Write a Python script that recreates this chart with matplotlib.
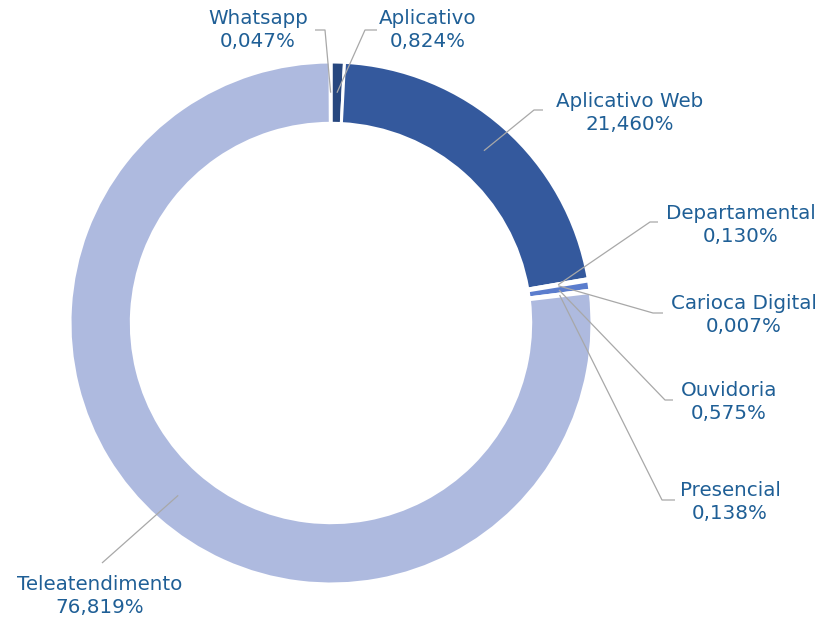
import numpy as np
import matplotlib
matplotlib.use("Agg")
import matplotlib.pyplot as plt

W, H = 825, 628

labels = ["Aplicativo", "Aplicativo Web", "Departamental", "Carioca Digital",
          "Ouvidoria", "Presencial", "Teleatendimento", "Whatsapp"]
values = [0.824, 21.460, 0.130, 0.007, 0.575, 0.138, 76.819, 0.047]
colors = ["#27477f", "#34599d", "#4d6fbd", "#5778c6", "#5b7dcd", "#7f97d4",
          "#aebadf", "#c3cce9"]

# label text centres and elbow of the leader line, in pixel coords (y down)
label_pos = {
    "Whatsapp": ((258, 30), (325, 30), (315, 30)),
    "Aplicativo": ((428, 30), (365, 30), (377, 30)),
    "Aplicativo Web": ((630, 113), (534, 110), (543, 110)),
    "Departamental": ((741, 225), (650, 222), (658, 222)),
    "Carioca Digital": ((744, 315), (653, 313), (663, 313)),
    "Ouvidoria": ((729, 402), (665, 400), (673, 400)),
    "Presencial": ((730, 502), (662, 500), (675, 500)),
    "Teleatendimento": ((100, 596), (102, 563), (102, 563)),
}

cx, cy = 331, H - 323
R = 261
ring = 0.235

fig = plt.figure(figsize=(W / 100, H / 100), dpi=100)
ax = fig.add_axes([0, 0, 1, 1])

ax.pie(values, colors=colors, startangle=90, counterclock=False,
       center=(cx, cy), radius=R, frame=True,
       wedgeprops=dict(width=R * ring, edgecolor="white", linewidth=2.2))
ax.set_xlim(0, W)
ax.set_ylim(0, H)
ax.axis("off")

text_color = "#1f5f96"
total = sum(values)
cum = 0.0
r_anchor = R * (1 - ring / 2)
for lab, v in zip(labels, values):
    mid = (cum + v / 2) / total * 360.0
    cum += v
    ang = np.deg2rad(90 - mid)
    ax_x = cx + r_anchor * np.cos(ang)
    ax_y = cy + r_anchor * np.sin(ang)
    (tx, ty), (ex, ey), (hx, hy) = label_pos[lab]
    ax.plot([ax_x, ex, hx], [ax_y, H - ey, H - hy], color="#a8a8a8", lw=0.9,
            solid_capstyle="butt")
    pct = f"{v:.3f}".replace(".", ",") + "%"
    ax.text(tx, H - ty, f"{lab}\n{pct}", ha="center", va="center",
            fontsize=14.3, color=text_color, family="DejaVu Sans",
            linespacing=1.25)

fig.savefig("out.png", dpi=100)
